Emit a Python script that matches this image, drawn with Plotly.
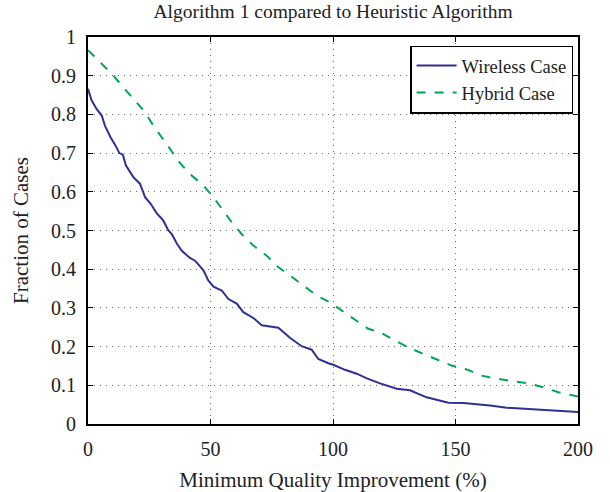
import plotly.graph_objects as go

wireless_x = [0, 1.5, 3.5, 5.6, 6.9, 9.2, 11.2, 12.8, 14.2, 15.5, 18.5, 21.2, 23.3, 25.6, 28, 30.7,
              32.8, 34.2, 36.2, 38.2, 41.6, 43.7, 47.1, 49.1, 51.2, 54.6, 57.3, 60.7, 63.4, 67.5,
              70.9, 77.7, 82.4, 87.2, 91.3, 94, 98.1, 100.1, 104.9, 109.7, 113.8, 119.2, 126,
              131.4, 138.2, 147.1, 153.2, 164.1, 170.9, 180.4, 188.6, 200]
wireless_y = [0.866, 0.836, 0.814, 0.797, 0.771, 0.741, 0.720, 0.700, 0.696, 0.668, 0.638, 0.621,
              0.586, 0.569, 0.545, 0.526, 0.500, 0.491, 0.467, 0.448, 0.429, 0.422, 0.397, 0.371,
              0.355, 0.345, 0.323, 0.311, 0.289, 0.274, 0.255, 0.249, 0.223, 0.201, 0.192, 0.168,
              0.157, 0.153, 0.140, 0.130, 0.118, 0.105, 0.091, 0.087, 0.069, 0.055, 0.054, 0.048,
              0.042, 0.038, 0.035, 0.031]

hybrid_x = [0, 5.6, 10.3, 14.4, 18.5, 23, 26.7, 30.1, 33.5, 37.6, 41.6, 47.1, 51.2, 54.6, 58.7,
            62.7, 67.5, 72.9, 77.7, 82.4, 87.9, 93.3, 98.5, 103.6, 108.3, 114.4, 119.2, 125.3,
            130.7, 136.9, 142.3, 148.4, 154.6, 160.7, 166.8, 173.6, 179.7, 185.8, 192, 200]
hybrid_y = [0.966, 0.931, 0.901, 0.870, 0.840, 0.808, 0.771, 0.741, 0.711, 0.674, 0.646, 0.616,
            0.586, 0.556, 0.521, 0.491, 0.461, 0.435, 0.405, 0.384, 0.358, 0.332, 0.315, 0.293,
            0.272, 0.246, 0.237, 0.216, 0.198, 0.181, 0.166, 0.151, 0.141, 0.125, 0.117, 0.110,
            0.105, 0.095, 0.082, 0.071]

x_ticks = [0, 50, 100, 150, 200]
y_ticks = [0, 0.1, 0.2, 0.3, 0.4, 0.5, 0.6, 0.7, 0.8, 0.9, 1]
y_tick_labels = ["0", "0.1", "0.2", "0.3", "0.4", "0.5", "0.6", "0.7", "0.8", "0.9", "1"]

FONT = "Liberation Serif"
TXT = "#222222"

fig = go.Figure()
fig.add_trace(go.Scatter(x=wireless_x, y=wireless_y, mode="lines", name="Wireless Case",
                         line=dict(color="#2E3192", width=2)))
fig.add_trace(go.Scatter(x=hybrid_x, y=hybrid_y, mode="lines", name="Hybrid Case",
                         line=dict(color="#00A651", width=2, dash="dash")))

axis_common = dict(
    showline=True, linecolor="#000000", linewidth=2, mirror="ticks",
    ticks="inside", ticklen=5, tickcolor="#000000", tickwidth=1,
    showgrid=True, gridcolor="#6a6a6a", griddash="1px,5px", gridwidth=1,
    zeroline=False, automargin=False, tickfont=dict(family=FONT, size=20, color=TXT),
)

fig.update_layout(
    width=610, height=492,
    margin=dict(l=88, r=32, t=37, b=68),
    paper_bgcolor="white", plot_bgcolor="white",
    font=dict(family=FONT, size=20, color=TXT),
    title=dict(text="Algorithm 1 compared to Heuristic Algorithm", x=0.546, xanchor="center",
               y=0.992, yanchor="top", font=dict(family=FONT, size=19.5, color=TXT)),
    xaxis=dict(range=[0, 200], tickvals=x_ticks, ticklabelstandoff=6,
               title=dict(text="Minimum Quality Improvement (%)", standoff=17,
                          font=dict(family=FONT, size=21)), **axis_common),
    yaxis=dict(range=[0, 1], tickvals=y_ticks, ticktext=y_tick_labels, ticklabelstandoff=6,
               title=dict(text="Fraction of Cases", standoff=17,
                          font=dict(family=FONT, size=21)), **axis_common),
    legend=dict(x=0.99, y=0.978, xanchor="right", yanchor="top",
                bgcolor="white", bordercolor="#000000", borderwidth=1.5,
                font=dict(family=FONT, size=18.5, color=TXT),
                tracegroupgap=0, itemwidth=40),
    showlegend=True,
)

fig.write_html("out.html")
